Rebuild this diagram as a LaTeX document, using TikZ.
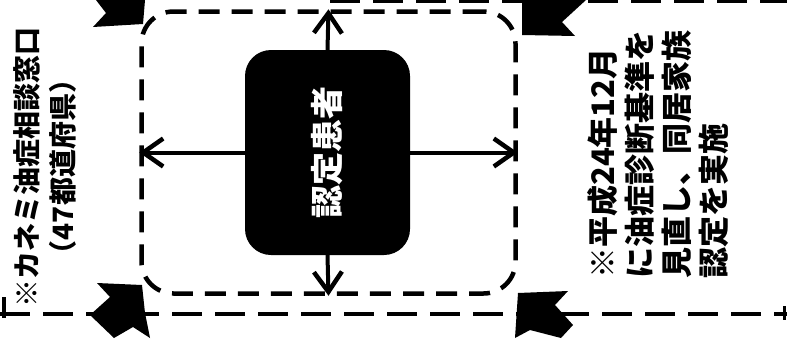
\documentclass[tikz,border=0pt]{standalone}
\usepackage{fontspec}
\newfontfamily\jp{Noto Sans CJK JP}
\usetikzlibrary{arrows.meta}
\begin{document}
\begin{tikzpicture}[x=1pt,y=-1pt,
  dline/.style={line width=4pt, dash pattern=on 30pt off 13pt},
  areabox/.style={draw, line width=4.5pt, dash pattern=on 21pt off 12pt, rounded corners=32pt, minimum width=374pt, minimum height=282pt, inner sep=0pt},
  patient/.style={fill=black, rounded corners=26pt, minimum width=165pt, minimum height=205pt, inner sep=0pt},
  conn/.style={line width=4pt, -{Straight Barb[length=20pt,width=28pt,line width=4.5pt]}},
  flag/.style={fill=black},
  vtext/.style={rotate=90, inner sep=0pt, font=\jp\bfseries}
]
\useasboundingbox (0,0) rectangle (787,338);
% outer dashed lines
\draw[dline] (0,314) -- (787,314);
\draw[dline] (330,1) -- (787,1);
\draw[line width=3.5pt] (4,297) -- (4,318);
\draw[line width=3pt] (784,306) -- (784,320);
% inner area
\node[areabox] (area) at (328.5,152.5) {};
\node[patient] (pt) at (327.5,152.5) {};
\node[vtext, text=white, font=\jp\bfseries\fontsize{33}{36}\selectfont] (ptl) at (pt.center) {認定患者};
% arrows
\draw[conn] (pt.west) -- (area.west);
\draw[conn] (pt.east) -- (area.east);
\draw[conn] (pt.north) -- (area.north);
\draw[conn] (pt.south) -- (area.south);
% black flags (cut arrows)
\fill[flag] (96,0) -- (145,0) -- (143,24) -- (93,27) -- (106,13) -- cycle;
\fill[flag] (522,0) -- (586,0) -- (562,22) -- (575,36) -- (522,35) -- cycle;
\fill[flag] (97,283) -- (142,285) -- (145,313) -- (150,338) -- (133,327) -- (114,338) -- (90,315) -- (110,297) -- cycle;
\fill[flag] (518,293) -- (568,291) -- (555,305) -- (573,325) -- (561,338) -- (530,330) -- (515,338) -- cycle;
% texts
\node[vtext, align=center, font=\jp\bfseries\fontsize{28}{36}\selectfont] (lt) at (45,167) {※カネミ油症相談窓口\\（47都道府県）};
\node[vtext, align=left, anchor=north west, font=\jp\bfseries\fontsize{31}{37}\selectfont] (rt) at (587,279) {※平成24年12月\\に油症診断基準を\\見直し、同居家族\\認定を実施};
\end{tikzpicture}
\end{document}
